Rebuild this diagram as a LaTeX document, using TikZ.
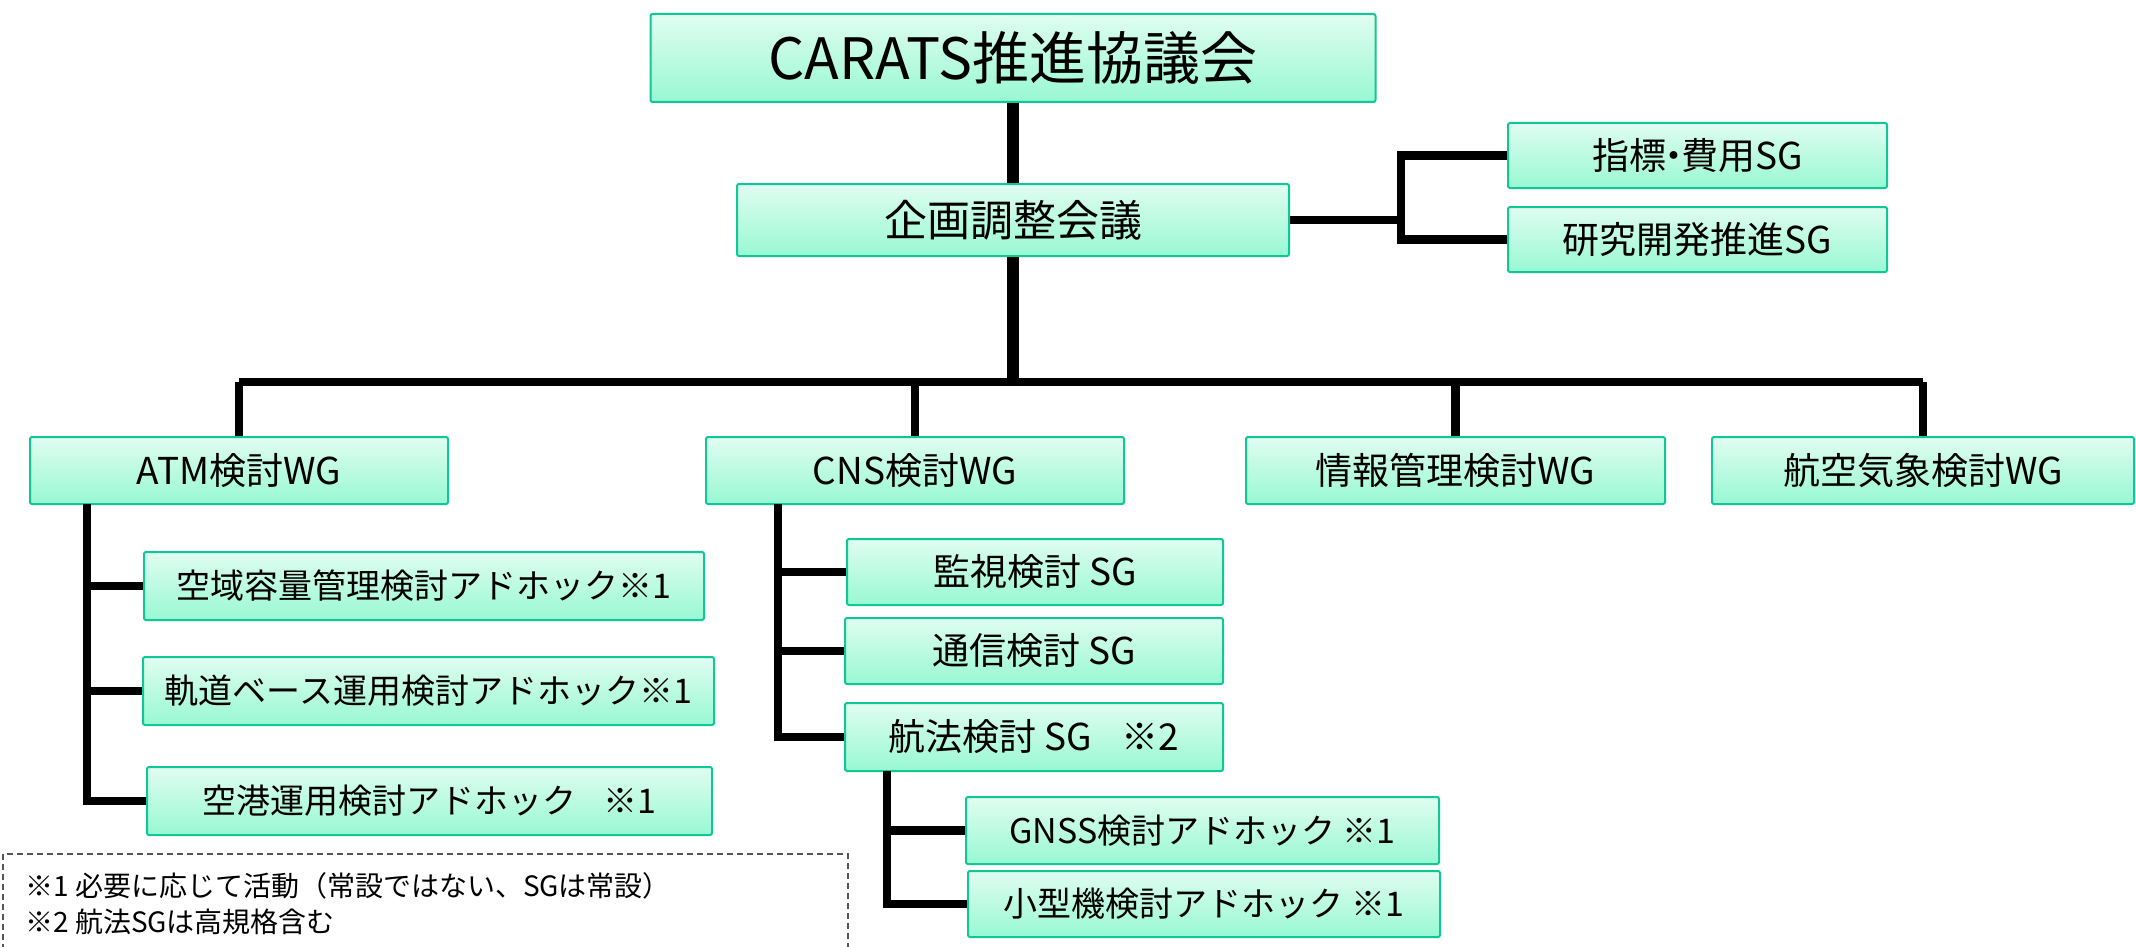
\documentclass[tikz,border=0pt]{standalone}
\usepackage{fontspec}
\setmainfont{Noto Sans CJK JP}
\definecolor{boxtop}{HTML}{E0FDF1}
\definecolor{boxbot}{HTML}{98F8D3}
\definecolor{boxline}{HTML}{10C896}
\definecolor{legline}{HTML}{555555}
\tikzset{
  box/.style={draw=boxline, line width=2pt, rounded corners=2pt, top color=boxtop, bottom color=boxbot, inner sep=0pt, text=black},
  fA/.style={font=\fontsize{57}{60}\selectfont},
  fB/.style={font=\fontsize{43}{48}\selectfont},
  fC/.style={font=\fontsize{37}{42}\selectfont},
  fD/.style={font=\fontsize{34}{40}\selectfont},
  conn/.style={line width=8.5pt, line join=miter, line cap=butt, black},
  trunk/.style={conn, line width=12pt},
  legtext/.style={font=\fontsize{28}{34}\selectfont, inner sep=0pt, anchor=base west}
}
\begin{document}
\begin{tikzpicture}[x=1pt,y=-1pt]
\useasboundingbox (0,0) rectangle (2136,947);
% boxes
\node[box,fA,minimum width=725,minimum height=88] (top) at (1013,58) {CARATS推進協議会};
\node[box,fB,minimum width=552,minimum height=72] (plan) at (1013,220) {企画調整会議};
\node[box,fC,minimum width=379,minimum height=65] (sg1) at (1697.5,155.5) {指標\hspace{-0.3em}・\hspace{-0.3em}費用SG};
\node[box,fC,minimum width=379,minimum height=65] (sg2) at (1697.5,239.5) {研究開発推進SG};
\node[box,fC,minimum width=418,minimum height=67] (atm) at (239,470.5) {ATM検討WG};
\node[box,fC,minimum width=418,minimum height=67] (cns) at (915,470.5) {CNS検討WG};
\node[box,fC,minimum width=419,minimum height=67] (info) at (1455.5,470.5) {情報管理検討WG};
\node[box,fC,minimum width=422,minimum height=67] (met) at (1923,470.5) {航空気象検討WG};
\node[box,fD,minimum width=560,minimum height=68] (a1) at (424,586) {空域容量管理検討アドホック※1};
\node[box,fD,minimum width=571,minimum height=68] (a2) at (428.5,691) {軌道ベース運用検討アドホック※1};
\node[box,fD,minimum width=565,minimum height=68] (a3) at (429.5,801) {空港運用検討アドホック\hspace{0.8em}※1};
\node[box,fC,minimum width=376,minimum height=66] (c1) at (1035,572) {監視検討 SG};
\node[box,fC,minimum width=378,minimum height=66] (c2) at (1034,651) {通信検討 SG};
\node[box,fC,minimum width=378,minimum height=68] (c3) at (1034,737) {航法検討 SG\hspace{0.8em}※2};
\node[box,fD,minimum width=473,minimum height=67] (n1) at (1202.5,830.5) {GNSS検討アドホック ※1};
\node[box,fD,minimum width=472,minimum height=66] (n2) at (1204,904) {小型機検討アドホック ※1};
% coordinates
\coordinate (sgbus) at (1401,220);
\coordinate (bus) at (1013,382);
\coordinate (busL) at (239,382);
\coordinate (busR) at (1923,382);
\coordinate (atmtrunk) at (87,504);
\coordinate (cnstrunk) at (778,504);
\coordinate (navtrunk) at (887,771);
% connectors
\draw[trunk] (top.south) -- (plan.north);
\draw[conn] (plan.east) -- (sgbus);
\draw[conn] (sg1.west) -- (sg1.west -| sgbus) -- (sg2.west -| sgbus) -- (sg2.west);
\draw[conn, line cap=square] (busL) -- (busR);
\draw[trunk] (plan.south) -- (bus);
\draw[conn] (atm.north |- bus) -- (atm.north);
\draw[conn] (cns.north |- bus) -- (cns.north);
\draw[conn] (info.north |- bus) -- (info.north);
\draw[conn] (met.north |- bus) -- (met.north);
\draw[conn] (atmtrunk) -- (atmtrunk |- a3.west) -- (a3.west);
\draw[conn] (atmtrunk |- a1.west) -- (a1.west);
\draw[conn] (atmtrunk |- a2.west) -- (a2.west);
\draw[conn] (cnstrunk) -- (cnstrunk |- c3.west) -- (c3.west);
\draw[conn] (cnstrunk |- c1.west) -- (c1.west);
\draw[conn] (cnstrunk |- c2.west) -- (c2.west);
\draw[conn] (navtrunk) -- (navtrunk |- n2.west) -- (n2.west);
\draw[conn] (navtrunk |- n1.west) -- (n1.west);
% legend
\coordinate (lgA) at (3,950);
\coordinate (lgB) at (3,854);
\coordinate (lgC) at (848,854);
\coordinate (lgD) at (848,950);
\draw[legline, line width=1.5pt, dash pattern=on 6pt off 4pt] (lgA) -- (lgB) -- (lgC) -- (lgD);
\node[legtext] (leg1) at (25,896) {※1 必要に応じて活動（常設ではない、SGは常設）};
\node[legtext] (leg2) at (25,932) {※2 航法SGは高規格含む};
\end{tikzpicture}
\end{document}
